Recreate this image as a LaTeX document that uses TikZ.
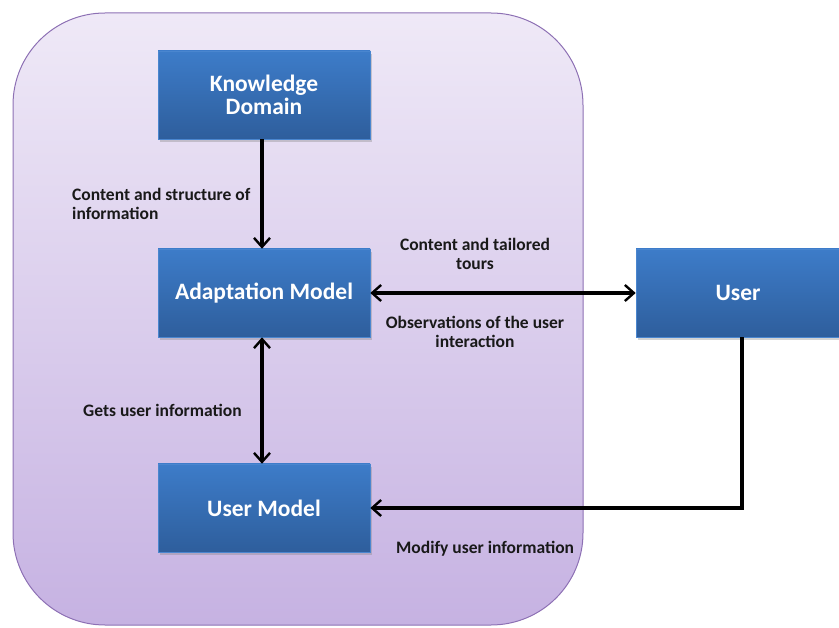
\documentclass[tikz,border=0pt]{standalone}
\usepackage{fontspec}
\setmainfont{Carlito}
\usetikzlibrary{arrows.meta,shadows}
\definecolor{boxtop}{HTML}{3D7CC9}
\definecolor{boxbot}{HTML}{2E5E9C}
\definecolor{boxedge}{HTML}{4A86CF}
\definecolor{paneltop}{HTML}{EFE9F7}
\definecolor{panelbot}{HTML}{C6B2E2}
\definecolor{paneledge}{HTML}{8D70B4}
\tikzset{
  blockbox/.style={rectangle, draw=boxedge, line width=0.6pt,
    top color=boxtop, bottom color=boxbot, text=white,
    font=\fontsize{23.5}{23.5}\selectfont\bfseries, align=center,
    minimum width=212pt, minimum height=88pt, inner sep=0pt,
    drop shadow={shadow xshift=2pt, shadow yshift=-3pt, opacity=0.35}},
  flowlabel/.style={font=\fontsize{17.5}{18.5}\selectfont\bfseries, text=black!90, inner sep=0pt},
  link/.style={line width=3.2pt, draw=black},
  barb/.tip={Straight Barb[length=9pt,width=16pt,line width=2.4pt]},
  tip/.style={-barb},
  bitip/.style={barb-barb}
}
\begin{document}
\begin{tikzpicture}[x=1pt,y=-1pt]
  \useasboundingbox (0,0) rectangle (839,628);
  % system panel
  \path[draw=paneledge, line width=1pt, top color=paneltop, bottom color=panelbot,
        rounded corners=92pt] (13,13) rectangle (583,625);
  % components
  \node[blockbox] (kd) at (264,95) {Knowledge\\Domain};
  \node[blockbox] (am) at (264,293) {Adaptation Model};
  \node[blockbox] (um) at (264,508) {User Model};
  \node[blockbox, minimum width=204pt] (us) at (738,293) {User};
  \coordinate (corner) at (742,508);
  % connectors
  \draw[link, tip] (kd.south -| 262,0) -- (am.north -| 262,0);
  \draw[link, bitip] (am.south -| 262,0) -- (um.north -| 262,0);
  \draw[link, bitip] (am.east) -- (us.west);
  \draw[link, tip] (us.south -| corner) -- (corner) -- (um.east);
  % labels
  \node[flowlabel, anchor=west, align=left] (l1) at (72,204) {Content and structure of\\information};
  \node[flowlabel, align=center] (l2) at (475,254) {Content and tailored\\tours};
  \node[flowlabel, align=center] (l3) at (475,332) {Observations of the user\\interaction};
  \node[flowlabel, anchor=west] (l4) at (83,410) {Gets user information};
  \node[flowlabel, anchor=west] (l5) at (396,549) {Modify user information};
\end{tikzpicture}
\end{document}
